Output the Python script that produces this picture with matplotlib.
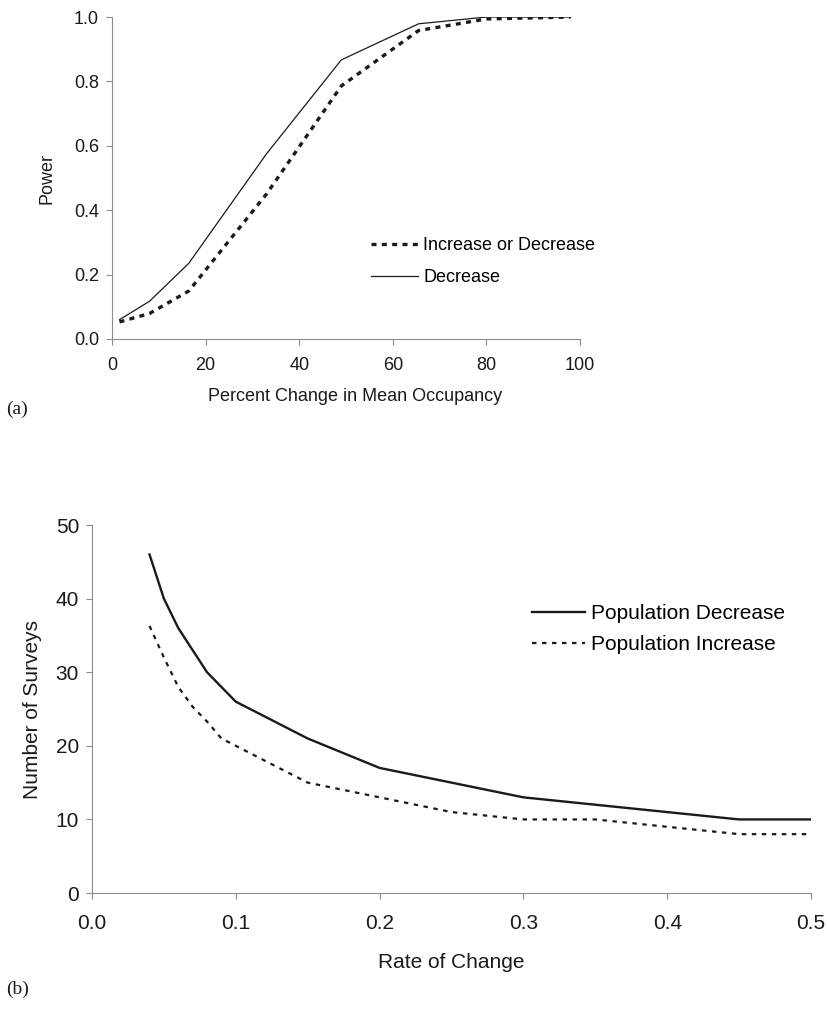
import matplotlib.pyplot as plt
from matplotlib.ticker import FormatStrFormatter

plt.rcParams['font.family'] = ['Liberation Sans', 'DejaVu Sans']

# panel (a): power vs percent change
pct_either = [1.6, 8, 16.4, 33, 49, 65.5, 80, 98]
power_either = [0.053, 0.079, 0.149, 0.45, 0.786, 0.958, 0.994, 1.0]
pct_decrease = [1.6, 8, 16.4, 33, 49, 65.5, 80, 98]
power_decrease = [0.06, 0.117, 0.235, 0.575, 0.867, 0.979, 1.0, 1.0]

# panel (b): surveys vs rate of change
rate = [0.04, 0.05, 0.06, 0.07, 0.08, 0.09, 0.1, 0.15, 0.2, 0.25, 0.3, 0.35, 0.4, 0.45, 0.5]
surveys_decrease = [46, 40, 36, 33, 30, 28, 26, 21, 17, 15, 13, 12, 11, 10, 10]
surveys_increase = [36.3, 32, 28, 25.3, 23.3, 21, 20, 15, 13, 11, 10, 10, 9, 8, 8]

ink = '#1a1a1a'
axis_grey = '#8c8c8c'


def style_axes(ax, fs, pad):
    for s in ['top', 'right']:
        ax.spines[s].set_visible(False)
    for s in ['left', 'bottom']:
        ax.spines[s].set_color(axis_grey)
        ax.spines[s].set_linewidth(0.8)
    ax.tick_params(direction='out', length=4.3, width=0.8, color=axis_grey,
                   labelsize=fs, labelcolor=ink)
    ax.tick_params(axis='x', pad=pad)
    ax.tick_params(axis='y', pad=5)


fig = plt.figure(figsize=(8.28, 10.14), dpi=100)

# (a)
fs1 = 13
ax1 = fig.add_axes([0.1353, 0.6657, 0.5652, 0.3175])
ax1.plot(pct_either, power_either, color=ink, lw=2.4, linestyle=(0, (1.5, 1.6)),
         label='Increase or Decrease')
ax1.plot(pct_decrease, power_decrease, color=ink, lw=0.9, label='Decrease')
ax1.set_xlim(0, 100)
ax1.set_ylim(0, 1.0)
ax1.set_xticks([0, 20, 40, 60, 80, 100])
ax1.set_yticks([0, 0.2, 0.4, 0.6, 0.8, 1.0])
ax1.yaxis.set_major_formatter(FormatStrFormatter('%.1f'))
style_axes(ax1, fs1, 9)
ax1.set_xlabel('Percent Change in Mean Occupancy', fontsize=fs1, color=ink, labelpad=10)
ax1.xaxis.label.set_x(0.52)
ax1.set_ylabel('Power', fontsize=fs1, color=ink, labelpad=13)
ax1.legend(loc='center left', bbox_to_anchor=(0.553, 0.24), frameon=False,
           fontsize=fs1, handlelength=2.6, handletextpad=0.3, labelspacing=0.85,
           borderpad=0, borderaxespad=0)

# (b)
fs2 = 15
ax2 = fig.add_axes([0.1111, 0.1193, 0.8684, 0.3629])
ax2.plot(rate, surveys_decrease, color=ink, lw=1.7, label='Population Decrease')
ax2.plot(rate, surveys_increase, color=ink, lw=1.6, linestyle=(0, (2, 2.5)),
         label='Population Increase')
ax2.set_xlim(0, 0.5)
ax2.set_ylim(0, 50)
ax2.set_xticks([0, 0.1, 0.2, 0.3, 0.4, 0.5])
ax2.set_yticks([0, 10, 20, 30, 40, 50])
ax2.xaxis.set_major_formatter(FormatStrFormatter('%.1f'))
style_axes(ax2, fs2, 11)
ax2.set_xlabel('Rate of Change', fontsize=fs2, color=ink, labelpad=14)
ax2.set_ylabel('Number of Surveys', fontsize=fs2, color=ink, labelpad=10)
ax2.legend(loc='center left', bbox_to_anchor=(0.612, 0.717), frameon=False,
           fontsize=fs2, handlelength=2.55, handletextpad=0.3, labelspacing=0.6,
           borderpad=0, borderaxespad=0)

fig.text(0.008, 0.592, '(a)', family='Liberation Serif', fontsize=14, color=ink)
fig.text(0.008, 0.020, '(b)', family='Liberation Serif', fontsize=14, color=ink)

fig.savefig('out.png', dpi=100)
